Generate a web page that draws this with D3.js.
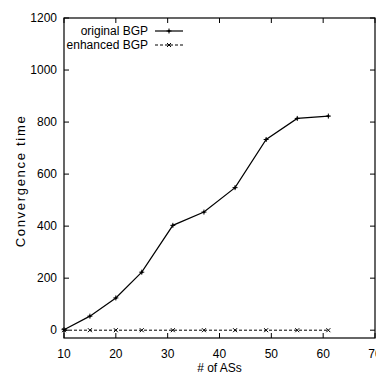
<!DOCTYPE html>
<html lang="en">
<head>
  <meta charset="utf-8" />
  <title>Convergence time</title>
  <style type="text/css">
    body { margin: 0; background: #fff; }
    text { font-family: "Liberation Sans Narrow", "Liberation Sans", Arial, sans-serif; font-size: 12px; fill: #000; }
    text.ylab { font-family: "Liberation Sans", Arial, sans-serif; font-size: 13px; letter-spacing: 1.7px; }
  </style>
</head>
<body>
  <div id="graphic"></div>
  <script src="https://cdn.jsdelivr.net/npm/d3@7/dist/d3.min.js"></script>
  <script>
    // data
    var numASs = [10, 15, 20, 25, 31, 37, 43, 49, 55, 61];
    var originalBGP = [2, 54, 124, 223, 403, 454, 548, 733, 814, 823];
    var enhancedBGP = [0, 0, 0, 0, 0, 0, 0, 0, 0, 0];
    var xTicks = [10, 20, 30, 40, 50, 60, 70];
    var yTicks = [0, 200, 400, 600, 800, 1000, 1200];

    var width = 376, height = 384;
    var margin = {top: 18, right: 1, bottom: 46, left: 64};

    var svg = d3.select('#graphic').append('svg')
      .attr('width', width)
      .attr('height', height);

    var x = d3.scaleLinear()
      .domain([10, 70])
      .range([margin.left, width - margin.right]);

    var y = d3.scaleLinear()
      .domain([-30, 1200])
      .range([height - margin.bottom, margin.top]);

    var tickLen = 5;

    // frame
    svg.append('rect')
      .attr('x', x(10)).attr('y', y(1200))
      .attr('width', x(70) - x(10)).attr('height', y(-30) - y(1200))
      .attr('fill', 'none').attr('stroke', '#000').attr('stroke-width', 1.2);

    // ticks on all four sides (inward)
    xTicks.forEach(function(t){
      svg.append('line').attr('x1', x(t)).attr('x2', x(t))
        .attr('y1', y(-30)).attr('y2', y(-30) - tickLen).attr('stroke', '#000');
      svg.append('line').attr('x1', x(t)).attr('x2', x(t))
        .attr('y1', y(1200)).attr('y2', y(1200) + tickLen).attr('stroke', '#000');
      svg.append('text').attr('x', x(t)).attr('y', y(-30) + 20)
        .attr('text-anchor', 'middle').text(t);
    });
    yTicks.forEach(function(t){
      svg.append('line').attr('x1', x(10)).attr('x2', x(10) + tickLen)
        .attr('y1', y(t)).attr('y2', y(t)).attr('stroke', '#000');
      svg.append('line').attr('x1', x(70)).attr('x2', x(70) - tickLen)
        .attr('y1', y(t)).attr('y2', y(t)).attr('stroke', '#000');
      svg.append('text').attr('x', x(10) - 7).attr('y', y(t) + 4)
        .attr('text-anchor', 'end').text(t);
    });

    // axis labels
    svg.append('text')
      .attr('class', 'ylab')
      .attr('transform', 'translate(25,181) rotate(-90)')
      .attr('text-anchor', 'middle')
      .text('Convergence time');
    svg.append('text')
      .attr('x', x(40)).attr('y', 372)
      .attr('text-anchor', 'middle')
      .text('# of ASs');

    var line = d3.line()
      .x(function(d){ return x(d[0]); })
      .y(function(d){ return y(d[1]); });

    var orig = numASs.map(function(d, i){ return [d, originalBGP[i]]; });
    var enh = numASs.map(function(d, i){ return [d, enhancedBGP[i]]; });

    function plus(g, px, py){
      g.append('path')
        .attr('d', 'M' + (px - 2.5) + ',' + py + 'h5M' + px + ',' + (py - 2.5) + 'v5')
        .attr('stroke', '#000').attr('stroke-width', 1);
      g.append('circle').attr('cx', px).attr('cy', py).attr('r', 1.2).attr('fill', '#000');
    }
    function cross(g, px, py){
      g.append('path')
        .attr('d', 'M' + (px - 2) + ',' + (py - 2) + 'l4,4M' + (px - 2) + ',' + (py + 2) + 'l4,-4')
        .attr('stroke', '#000').attr('stroke-width', 1);
    }

    var marks = svg.append('g');

    marks.append('path').datum(enh)
      .attr('d', line).attr('fill', 'none')
      .attr('stroke', '#000').attr('stroke-width', 1)
      .attr('stroke-dasharray', '3,2');
    enh.forEach(function(d){ cross(marks, x(d[0]), y(d[1])); });

    marks.append('path').datum(orig)
      .attr('d', line).attr('fill', 'none')
      .attr('stroke', '#000').attr('stroke-width', 1.2);
    orig.forEach(function(d){ plus(marks, x(d[0]), y(d[1])); });

    // legend
    var legend = svg.append('g');
    legend.append('text').attr('x', 148).attr('y', 35).attr('text-anchor', 'end').text('original BGP');
    legend.append('line').attr('x1', 155).attr('x2', 183).attr('y1', 31).attr('y2', 31)
      .attr('stroke', '#000').attr('stroke-width', 1.2);
    plus(legend, 169, 31);
    legend.append('text').attr('x', 148).attr('y', 49).attr('text-anchor', 'end').text('enhanced BGP');
    legend.append('line').attr('x1', 155).attr('x2', 183).attr('y1', 45).attr('y2', 45)
      .attr('stroke', '#000').attr('stroke-width', 1).attr('stroke-dasharray', '3,2');
    cross(legend, 169, 45);
  </script>
</body>
</html>
